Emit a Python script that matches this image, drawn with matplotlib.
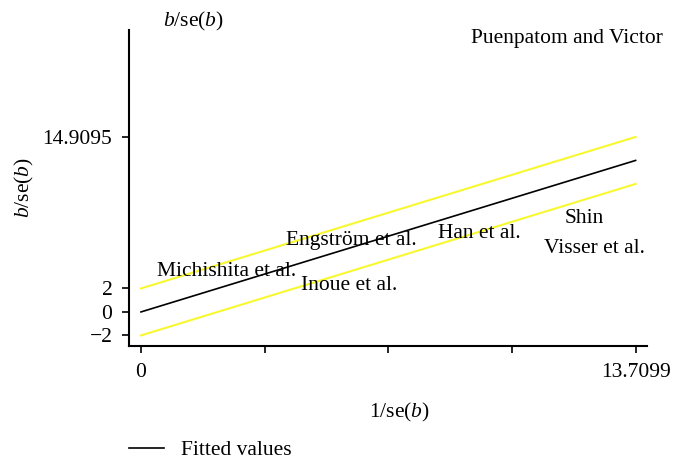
import numpy as np
import matplotlib.pyplot as plt

plt.rcParams['font.family'] = ['Liberation Serif', 'DejaVu Serif']
plt.rcParams['mathtext.fontset'] = 'custom'
plt.rcParams['mathtext.it'] = 'Liberation Serif:italic'
plt.rcParams['mathtext.rm'] = 'Liberation Serif'

# Galbraith plot data
studies = ["Michishita et al.", "Engström et al.", "Inoue et al.", "Han et al.",
           "Shin", "Visser et al.", "Puenpatom and Victor"]
precision = [2.38, 5.84, 5.77, 9.39, 12.3, 12.58, 11.8]   # 1/se(b)
zscore = [3.41, 6.05, 2.21, 6.64, 7.95, 5.37, 23.3]        # b/se(b)

x_max = 13.7099
slope = 0.941
fit_x = np.array([0, x_max])
fit_y = slope * fit_x

fs = 15.5

fig = plt.figure(figsize=(6.84, 4.68), dpi=100)
ax = fig.add_axes([0.1886, 0.2607, 0.757, 0.675])

ax.plot(fit_x, fit_y + 2, color="#f8f830", lw=1.5)
ax.plot(fit_x, fit_y - 2, color="#f8f830", lw=1.5)
ax.plot(fit_x, fit_y, color="black", lw=1.2, label="Fitted values")

for name, px, py in zip(studies, precision, zscore):
    ax.text(px, py, name, ha="center", va="center", fontsize=fs)

ax.set_xlim(-0.332, 14.02)
ax.set_ylim(-2.9, 24.0)

xt = np.linspace(0, x_max, 5)
ax.set_xticks(xt)
ax.set_xticklabels(["0", "", "", "", "13.7099"])
ax.set_yticks([-2, 0, 2, 14.9095])
ax.set_yticklabels(["\u22122", "0", "2", "14.9095"])
ax.tick_params(direction="out", length=5, width=1.2, labelsize=fs, pad=7)

for s in ["top", "right"]:
    ax.spines[s].set_visible(False)
for s in ["left", "bottom"]:
    ax.spines[s].set_linewidth(1.5)

ax.set_xlabel("1/se($b$)", fontsize=fs)
ax.xaxis.set_label_coords(0.523, -0.175)
ax.set_ylabel("$b$/se($b$)", fontsize=fs, labelpad=5)
fig.text(193 / 684, 1 - 21 / 468, "$b$/se($b$)", ha="center", va="center", fontsize=fs)

fig.legend(loc="lower left", bbox_to_anchor=(0.161, -0.025), frameon=False,
           fontsize=fs, handlelength=1.58, handletextpad=0.8)

fig.savefig("out.png", dpi=100)
